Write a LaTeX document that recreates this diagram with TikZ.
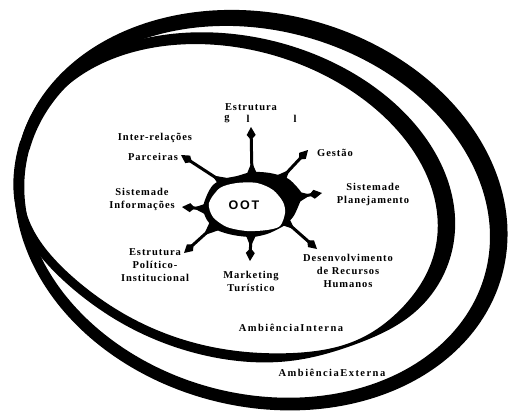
\documentclass[tikz,border=0pt]{standalone}
\usepackage{fontspec}
\setmainfont{Liberation Serif}[LetterSpace=9]
\newfontfamily\ootfont{Liberation Sans}[LetterSpace=14]
\usetikzlibrary{calc,arrows.meta}
\begin{document}
\begin{tikzpicture}[x=1pt,y=-1pt,
  lbl/.style={font=\fontsize{10.5}{13}\selectfont\bfseries, align=center, inner sep=0pt},
  amb/.style={font=\fontsize{10.5}{13}\selectfont\bfseries\addfontfeatures{LetterSpace=14}, inner sep=0pt},
  spike/.style={line width=3pt, -{Kite[length=13pt,width=9pt,inset=5pt]}},
  flare/.style={fill=black},
  ring/.style={fill=black, even odd rule},
  declare function={
    gs(\u,\c,\s)=exp(max(-30,-((\u-\c)/\s)^2));
    wo(\u)=12+7*gs(\u,-50,80)-2*gs(\u,165,30)-2*gs(\u,-195,30);
    wi(\u)=9+9*gs(\u,-30,75)-9*gs(\u,45,18);
    fi(\u)=1+0.035*gs(\u,150,20);
  },
]
\useasboundingbox (0,0) rectangle (509,410);
\fill[white] (0,0) rectangle (509,410);

% outer ring (Ambiencia Externa): centre (259,211), radii 243/189, tilted 15 deg
\fill[ring]
  plot[domain=-180:180, samples=241, variable=\t]
    ({259+(243+0.5*wo(\t))*cos(\t)*0.9659-(189+0.5*wo(\t))*sin(\t)*0.2588},
     {211+(243+0.5*wo(\t))*cos(\t)*0.2588+(189+0.5*wo(\t))*sin(\t)*0.9659})
  plot[domain=-180:180, samples=241, variable=\t]
    ({259+(243-0.5*wo(\t))*cos(\t)*0.9659-(189-0.5*wo(\t))*sin(\t)*0.2588},
     {211+(243-0.5*wo(\t))*cos(\t)*0.2588+(189-0.5*wo(\t))*sin(\t)*0.9659});

% inner ring (Ambiencia Interna): centre (234,198), radii 216/155, tilted 15 deg
\fill[ring]
  plot[domain=-180:180, samples=241, variable=\t]
    ({234+(216*fi(\t)+0.5*wi(\t))*cos(\t)*0.9659-(155*fi(\t)+0.5*wi(\t))*sin(\t)*0.2588},
     {198+(216*fi(\t)+0.5*wi(\t))*cos(\t)*0.2588+(155*fi(\t)+0.5*wi(\t))*sin(\t)*0.9659})
  plot[domain=-180:180, samples=241, variable=\t]
    ({234+(216*fi(\t)-0.5*wi(\t))*cos(\t)*0.9659-(155*fi(\t)-0.5*wi(\t))*sin(\t)*0.2588},
     {198+(216*fi(\t)-0.5*wi(\t))*cos(\t)*0.2588+(155*fi(\t)-0.5*wi(\t))*sin(\t)*0.9659});

% spikes: base and tip coordinates
\coordinate (b1) at (252,176); \coordinate (t1) at (251,127);
\coordinate (b2) at (280,180); \coordinate (t2) at (308,150);
\coordinate (b3) at (297,197); \coordinate (t3) at (322,193);
\coordinate (b4) at (284,220); \coordinate (t4) at (317,249);
\coordinate (b5) at (251,233); \coordinate (t5) at (250,261);
\coordinate (b6) at (214,226); \coordinate (t6) at (184,253);
\coordinate (b7) at (207,209); \coordinate (t7) at (182,207);
\coordinate (b8) at (224,183); \coordinate (t8) at (181,155);
\foreach \b/\t in {b1/t1,b2/t2,b3/t3,b4/t4,b5/t5,b6/t6,b7/t7,b8/t8} {
  \fill[flare] ($(\b)!6pt!90:(\t)$) -- ($(\b)!14pt!(\t)$) -- ($(\b)!6pt!-90:(\t)$) -- cycle;
  \draw[spike] (\b) -- (\t);
}

% central blob
\fill plot[smooth cycle] coordinates {(203,208) (207,195) (213,185) (223,179) (237,176)
  (252,172) (270,173) (287,178) (297,187) (302,195) (298,207) (293,217) (285,225)
  (278,229) (267,234) (252,237) (233,235) (217,230) (207,220)};
\fill[white] plot[smooth cycle] coordinates {(209,203) (220,188) (237,183) (257,183)
  (273,190) (283,202) (285,213) (280,226) (267,230) (247,231) (227,227) (213,217)};
\node[font=\ootfont\fontsize{12.5}{14}\selectfont\bfseries, inner sep=0pt] (oot) at (244,205) {OOT};

% labels
\node[lbl] (est) at (251,107) {Estrutura};
\node[lbl] (g1) at (227,119) {g};
\node[lbl] (g2) at (248,119) {l};
\node[lbl] (g3) at (295,119) {l};
\node[lbl] (inter) at (155,138) {Inter-relações};
\node[lbl] (parc) at (153,157) {Parceiras};
\node[lbl] (gest) at (335,153) {Gestão};
\node[lbl] (plan) at (373,194) {Sistemade\\Planejamento};
\node[lbl] (info) at (142,199) {Sistemade\\Informações};
\node[lbl] (epi) at (155,265) {Estrutura\\Político-\\Institucional};
\node[lbl] (mkt) at (251,281) {Marketing\\Turístico};
\node[lbl] (drh) at (348,271) {Desenvolvimento\\de Recursos\\Humanos};
\node[amb] (ai) at (291,328) {AmbiênciaInterna};
\node[amb] (ae) at (332,373) {AmbiênciaExterna};
\end{tikzpicture}
\end{document}
